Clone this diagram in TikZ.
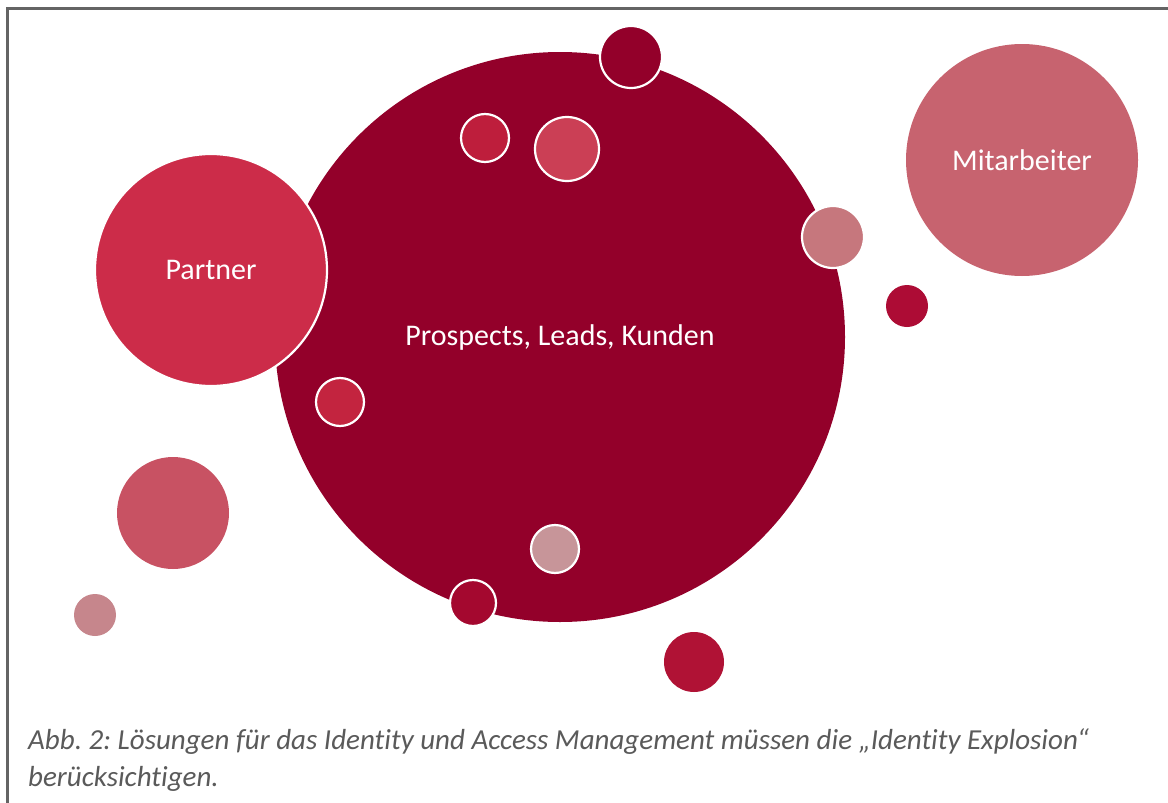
\documentclass[tikz,border=0pt]{standalone}
\usepackage{fontspec}
\setmainfont[Ligatures={NoCommon}]{Carlito}
\frenchspacing
\begin{document}
\begin{tikzpicture}[x=1pt,y=-1pt,
  bub/.style={circle,inner sep=0pt,draw=none},
  wb/.style={circle,inner sep=0pt,draw=white,line width=2.2pt},
  lbl/.style={text=white,font=\fontsize{30}{33}\selectfont}]
\useasboundingbox (0,0) rectangle (1168,803);
\fill[white] (0,0) rectangle (1168,803);
\draw[color={rgb,255:red,100;green,100;blue,100},line width=2.5pt] (7.5,805) -- (7.5,8.5) -- (1170,8.5);
\definecolor{cMain}{HTML}{93002A}
\definecolor{cPartner}{HTML}{CC2C49}
\definecolor{cMit}{HTML}{C7636F}
\definecolor{cA}{HTML}{BE1E3C}
\definecolor{cB}{HTML}{CB3F55}
\definecolor{cC}{HTML}{C6777D}
\definecolor{cD}{HTML}{AD0C35}
\definecolor{cE}{HTML}{C3243F}
\definecolor{cF}{HTML}{C85263}
\definecolor{cG}{HTML}{C6868C}
\definecolor{cH}{HTML}{C79599}
\definecolor{cI}{HTML}{A4082F}
\definecolor{cJ}{HTML}{B01235}
\node[bub,fill=cMain,minimum size=570pt] (main) at (560,337) {};
\node[lbl] (mainlbl) at (560,337) {Prospects, Leads, Kunden};
\node[wb,fill=cPartner,minimum size=232pt] (partner) at (211,270) {};
\node[lbl] (partnerlbl) at (211,270) {Partner};
\node[bub,fill=cMit,minimum size=232pt] (mit) at (1022,160) {};
\node[lbl] (mitlbl) at (1022,160) {Mitarbeiter};
\node[wb,fill=cMain,minimum size=62pt] (top) at (631,57) {};
\node[wb,fill=cA,minimum size=48pt] (a) at (485,138) {};
\node[wb,fill=cB,minimum size=64pt] (b) at (567,149) {};
\node[wb,fill=cC,minimum size=62pt] (c) at (833,237) {};
\node[bub,fill=cD,minimum size=42pt] (d) at (907,306) {};
\node[wb,fill=cE,minimum size=48pt] (e) at (340,402) {};
\node[bub,fill=cF,minimum size=112pt] (f) at (173,513) {};
\node[bub,fill=cG,minimum size=42pt] (g) at (95,615) {};
\node[wb,fill=cH,minimum size=48pt] (h) at (555,549) {};
\node[wb,fill=cI,minimum size=46pt] (i) at (473,603) {};
\node[bub,fill=cJ,minimum size=60pt] (j) at (694,662) {};
\node[anchor=base west,align=left,inner sep=0pt,text={rgb,255:red,90;green,90;blue,90},
  font=\itshape\fontsize{29}{37}\selectfont] (cap) at (28,786)
  {Abb. 2: Lösungen für das Identity und Access Management müssen die „Identity Explosion“\\berücksichtigen.};
\end{tikzpicture}
\end{document}
